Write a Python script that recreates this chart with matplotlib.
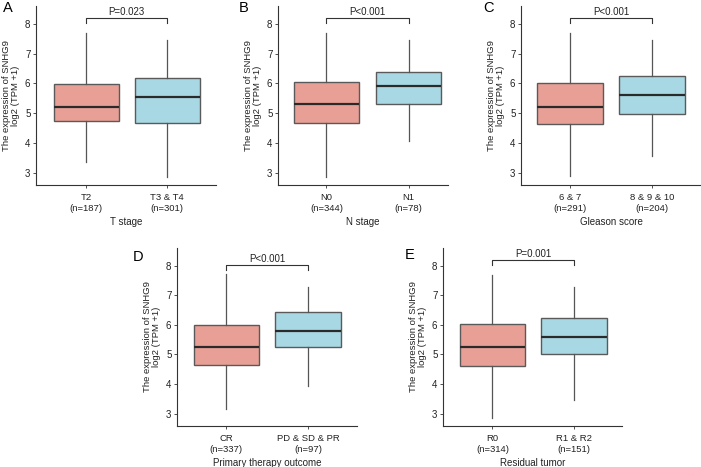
import matplotlib
matplotlib.use("Agg")
import matplotlib.pyplot as plt

plt.rcParams['font.family'] = ['Liberation Sans', 'DejaVu Sans']

# ---- data ----
panel_letters = ["A", "B", "C", "D", "E"]
x_titles = ["T stage", "N stage", "Gleason score", "Primary therapy outcome", "Residual tumor"]
groups = [["T2", "T3 & T4"], ["N0", "N1"], ["6 & 7", "8 & 9 & 10"], ["CR", "PD & SD & PR"], ["R0", "R1 & R2"]]
counts = [[187, 301], [344, 78], [291, 204], [337, 97], [314, 151]]
p_labels = ["P=0.023", "P<0.001", "P<0.001", "P<0.001", "P=0.001"]
# whisker low, Q1, median, Q3, whisker high
low1 = [3.34, 2.85]; q1_1 = [4.73, 4.68]; med1 = [5.21, 5.53]; q3_1 = [5.96, 6.19]; high1 = [7.69, 7.47]
low2 = [2.86, 4.06]; q1_2 = [4.65, 5.30]; med2 = [5.30, 5.91]; q3_2 = [6.04, 6.37]; high2 = [7.69, 7.47]
low3 = [2.87, 3.56]; q1_3 = [4.63, 4.98]; med3 = [5.22, 5.60]; q3_3 = [6.00, 6.24]; high3 = [7.68, 7.47]
low4 = [3.15, 3.92]; q1_4 = [4.65, 5.24]; med4 = [5.24, 5.80]; q3_4 = [5.98, 6.45]; high4 = [7.72, 7.28]
low5 = [2.86, 3.45]; q1_5 = [4.62, 5.03]; med5 = [5.24, 5.58]; q3_5 = [6.02, 6.24]; high5 = [7.68, 7.28]
stats_all = [(low1, q1_1, med1, q3_1, high1), (low2, q1_2, med2, q3_2, high2),
             (low3, q1_3, med3, q3_3, high3), (low4, q1_4, med4, q3_4, high4),
             (low5, q1_5, med5, q3_5, high5)]
bracket_y = [8.18, 8.18, 8.18, 8.02, 8.18]
y_ticks = [3, 4, 5, 6, 7, 8]

# ---- layout (pixels: left, right, top, bottom) ----
W, H = 701, 467
boxes_px = [(36, 216, 6, 185), (278, 448, 6, 185), (521, 701, 6, 185),
            (177, 357, 248, 426), (443, 622, 248, 426)]
xlims = [(0.38, 2.6), (0.41, 2.48), (0.40, 2.6), (0.395, 2.6), (0.395, 2.585)]
letter_px = [(8, 8), (244, 8), (488, 8), (138, 257), (410, 255)]
colors = ["#E8A096", "#A8D8E3"]

fig = plt.figure(figsize=(W / 100, H / 100), dpi=100)
fig.patch.set_facecolor("white")

for i in range(5):
    l, r, t, b = boxes_px[i]
    ax = fig.add_axes([l / W, 1 - b / H, (r - l) / W, (b - t) / H])
    lo, q1, me, q3, hi = stats_all[i]
    stats = []
    for k in range(2):
        stats.append(dict(whislo=lo[k], q1=q1[k], med=me[k], q3=q3[k], whishi=hi[k], fliers=[]))
    bp = ax.bxp(stats, positions=[1, 2], widths=0.8, patch_artist=True, showcaps=False,
                showfliers=False,
                boxprops=dict(edgecolor="#5a5a5a", linewidth=1.0),
                whiskerprops=dict(color="#555555", linewidth=0.9),
                medianprops=dict(color="#2a2a2a", linewidth=1.6))
    for patch, c in zip(bp["boxes"], colors):
        patch.set_facecolor(c)
    ax.set_xlim(*xlims[i])
    ax.set_ylim(2.58, 8.6)
    ax.set_yticks(y_ticks)
    ax.set_xticks([1, 2])
    ax.set_xticklabels([f"{g}\n(n={n})" for g, n in zip(groups[i], counts[i])], fontsize=6.8,
                       color="#222222")
    for lab in ax.get_xticklabels():
        lab.set_linespacing(1.35)
    ax.tick_params(axis="y", labelsize=7, length=2.5, width=0.6, color="#333333", pad=1.5,
                   labelcolor="#222222")
    ax.tick_params(axis="x", length=2.5, width=0.6, color="#333333", pad=3)
    for s in ["top", "right"]:
        ax.spines[s].set_visible(False)
    for s in ["left", "bottom"]:
        ax.spines[s].set_color("#333333")
        ax.spines[s].set_linewidth(0.8)
    ax.set_xlabel(x_titles[i], fontsize=7, labelpad=3, color="#222222")
    ax.set_ylabel("The expression of SNHG9\nlog2 (TPM +1)", fontsize=6.8, color="#222222",
                  linespacing=1.05)
    ax.yaxis.set_label_coords(-16 / (r - l), 0.5)
    # significance bracket
    by = bracket_y[i]
    ax.plot([1, 1, 2, 2], [by - 0.15, by, by, by - 0.15], color="#333333", linewidth=0.8,
            clip_on=False)
    ax.text(1.5, by + 0.05, p_labels[i], ha="center", va="bottom", fontsize=7, color="#222222")
    ax.set_facecolor("white")
    lx, ly = letter_px[i]
    fig.text(lx / W, 1 - ly / H, panel_letters[i], fontsize=10.5, ha="center", va="center")

fig.savefig("out.png", dpi=100)
